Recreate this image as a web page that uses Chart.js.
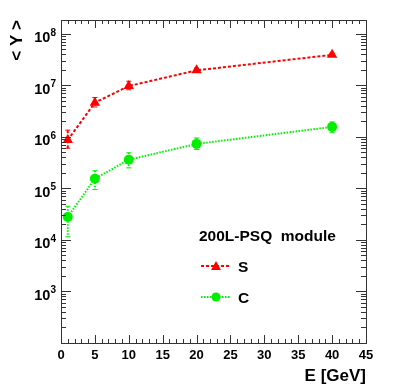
<!DOCTYPE html>
<html lang="en">
<head>
<meta charset="UTF-8" />
<title>Mean Y vs E</title>
<script src="https://cdn.jsdelivr.net/npm/chart.js"></script>
<style>
  html, body { margin: 0; padding: 0; background: #fff; }
  #wrap { position: relative; width: 407px; height: 390px; }
</style>
</head>
<body>
<div id="wrap"><canvas id="chart" width="407" height="390"></canvas></div>
<script>
// data
const energies = [1, 5, 10, 20, 40];
const sMean = [8.7e5, 4.6e6, 9.7e6, 1.95e7, 3.9e7];
const sHigh = [1.35e6, 5.8e6, 1.2e7, 2.15e7, 4.2e7];
const sLow = [6.0e5, 3.8e6, 8.2e6, 1.8e7, 3.65e7];
const cMean = [2.8e4, 1.54e5, 3.6e5, 7.3e5, 1.56e6];
const cHigh = [4.5e4, 2.2e5, 4.9e5, 9.5e5, 1.95e6];
const cLow = [1.15e4, 9.5e4, 2.5e5, 5.7e5, 1.2e6];
const xTicks = [0, 5, 10, 15, 20, 25, 30, 35, 40, 45];
const yDecades = [3, 4, 5, 6, 7, 8];

const FONT = '"Liberation Sans", Arial, sans-serif';
const RED = '#ff0000';
const GREEN = '#00ee00';

function pts(ys) {
    return energies.map((e, i) => ({ x: e, y: ys[i] }));
}

// error bars, drawn under the markers
const errorBars = {
    id: 'errorBars',
    beforeDatasetsDraw(chart) {
        const { ctx, scales: { x, y } } = chart;
        const sets = [
            { hi: sHigh, lo: sLow, color: RED, dash: [3, 2], w: 2 },
            { hi: cHigh, lo: cLow, color: GREEN, dash: [1.5, 1.5], w: 2 }
        ];
        ctx.save();
        sets.forEach(s => {
            ctx.strokeStyle = s.color;
            energies.forEach((e, i) => {
                const px = x.getPixelForValue(e);
                const top = y.getPixelForValue(s.hi[i]);
                const bot = y.getPixelForValue(s.lo[i]);
                ctx.lineWidth = s.w;
                ctx.setLineDash(s.dash);
                ctx.beginPath();
                ctx.moveTo(px, top);
                ctx.lineTo(px, bot);
                ctx.stroke();
                // small end caps
                ctx.setLineDash([]);
                ctx.lineWidth = 1;
                ctx.beginPath();
                ctx.moveTo(px - 2.5, top); ctx.lineTo(px + 2.5, top);
                ctx.moveTo(px - 2.5, bot); ctx.lineTo(px + 2.5, bot);
                ctx.stroke();
            });
        });
        ctx.restore();
    }
};

// ROOT style frame, ticks, labels and legend
const rootFrame = {
    id: 'rootFrame',
    afterDraw(chart) {
        const { ctx, chartArea: a, scales: { x, y } } = chart;
        ctx.save();
        ctx.strokeStyle = '#333';
        ctx.lineWidth = 1;
        ctx.strokeRect(Math.round(a.left) + 0.5, Math.round(a.top) + 0.5,
            Math.round(a.right - a.left), Math.round(a.bottom - a.top));

        // x ticks (bottom and top)
        ctx.beginPath();
        for (let v = 0; v <= 45; v++) {
            const px = Math.round(x.getPixelForValue(v)) + 0.5;
            const len = v % 5 === 0 ? 8 : 4;
            ctx.moveTo(px, a.bottom); ctx.lineTo(px, a.bottom - len);
            ctx.moveTo(px, a.top); ctx.lineTo(px, a.top + len);
        }
        // y ticks (left and right)
        for (let d = 2; d <= 8; d++) {
            for (let m = 1; m <= 9; m++) {
                const v = m * Math.pow(10, d);
                if (v < y.min || v > y.max) continue;
                const py = Math.round(y.getPixelForValue(v)) + 0.5;
                const len = m === 1 ? 10 : 5;
                ctx.moveTo(a.left, py); ctx.lineTo(a.left + len, py);
                ctx.moveTo(a.right, py); ctx.lineTo(a.right - len, py);
            }
        }
        ctx.stroke();

        // tick labels
        ctx.fillStyle = '#000';
        ctx.font = 'bold 13px ' + FONT;
        ctx.textAlign = 'center';
        ctx.textBaseline = 'top';
        xTicks.forEach(v => ctx.fillText(String(v), x.getPixelForValue(v), a.bottom + 6));

        yDecades.forEach(d => {
            const py = y.getPixelForValue(Math.pow(10, d));
            ctx.font = 'bold 10px ' + FONT;
            const sw = ctx.measureText(String(d)).width;
            ctx.textAlign = 'right';
            ctx.textBaseline = 'alphabetic';
            ctx.fillText(String(d), a.left - 5, py + 2);
            ctx.font = 'bold 14.5px ' + FONT;
            ctx.fillText('10', a.left - 5 - sw, py + 8.5);
        });

        // axis titles
        ctx.font = 'bold 17px ' + FONT;
        ctx.textAlign = 'right';
        ctx.textBaseline = 'alphabetic';
        ctx.fillText('E [GeV]', a.right, 381);
        ctx.save();
        ctx.translate(22, a.top);
        ctx.rotate(-Math.PI / 2);
        ctx.textAlign = 'right';
        ctx.fillText('< Y >', 0, 0);
        ctx.restore();

        // legend
        ctx.font = 'bold 15.5px ' + FONT;
        ctx.textAlign = 'left';
        ctx.fillText('200L-PSQ  module', 199, 241);
        const entries = [
            { label: 'S', y: 266, color: RED, dash: [3, 2], w: 2, style: 'triangle' },
            { label: 'C', y: 297, color: GREEN, dash: [1.5, 1.5], w: 2, style: 'circle' }
        ];
        entries.forEach(e => {
            ctx.strokeStyle = e.color;
            ctx.lineWidth = e.w;
            ctx.setLineDash(e.dash);
            ctx.beginPath();
            ctx.moveTo(201, e.y); ctx.lineTo(230, e.y);
            ctx.stroke();
            ctx.setLineDash([]);
            ctx.fillStyle = e.color;
            ctx.beginPath();
            if (e.style === 'triangle') {
                ctx.moveTo(216, e.y - 5); ctx.lineTo(221, e.y + 4); ctx.lineTo(211, e.y + 4);
                ctx.closePath();
            } else {
                ctx.arc(216, e.y, 4.5, 0, Math.PI * 2);
            }
            ctx.fill();
            ctx.fillStyle = '#000';
            ctx.fillText(e.label, 238, e.y + 6);
        });
        ctx.restore();
    }
};

new Chart(document.getElementById('chart'), {
    type: 'line',
    data: {
        datasets: [
            {
                label: 'S',
                data: pts(sMean),
                borderColor: RED,
                backgroundColor: RED,
                borderWidth: 2,
                borderDash: [3, 2],
                pointStyle: 'triangle',
                pointRadius: 6,
                pointBorderWidth: 0
            },
            {
                label: 'C',
                data: pts(cMean),
                borderColor: GREEN,
                backgroundColor: GREEN,
                borderWidth: 2,
                borderDash: [1.5, 1.5],
                pointStyle: 'circle',
                pointRadius: 5,
                pointBorderWidth: 0
            }
        ]
    },
    options: {
        responsive: false,
        animation: false,
        layout: { padding: { left: 61, top: 20, right: 41, bottom: 47 } },
        plugins: { legend: { display: false }, tooltip: { enabled: false } },
        scales: {
            x: { type: 'linear', min: 0, max: 45, display: false },
            y: { type: 'logarithmic', min: 100, max: 1.85e8, display: false }
        }
    },
    plugins: [errorBars, rootFrame]
});
</script>
</body>
</html>
